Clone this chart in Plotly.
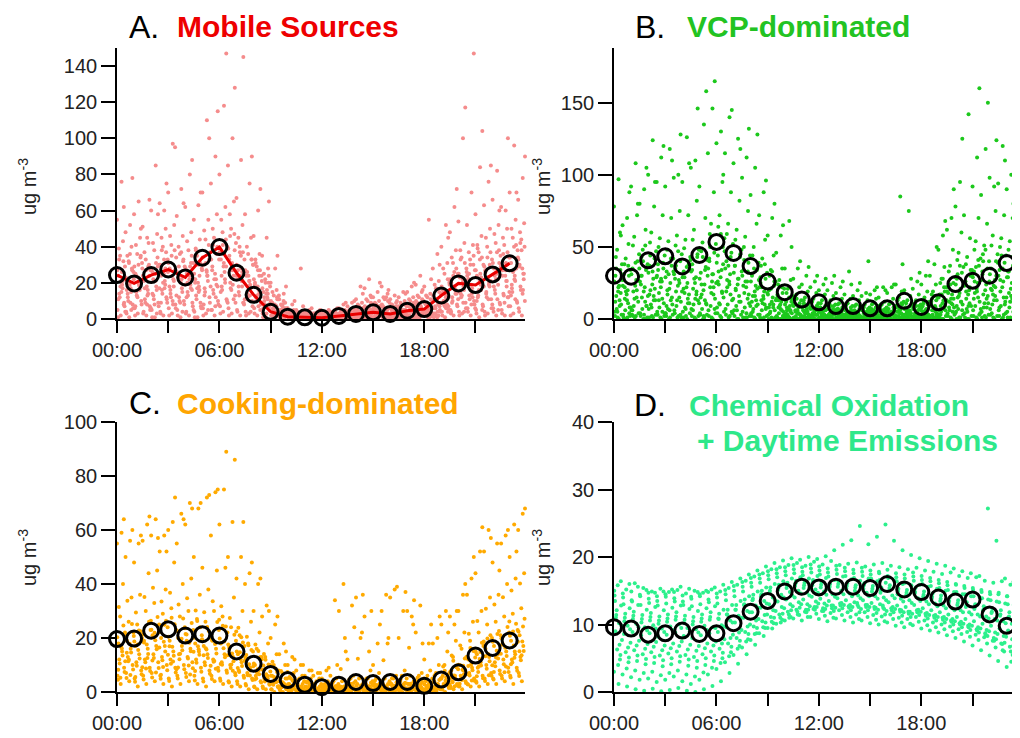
import plotly.graph_objects as go

# ---------------- data ----------------
hours = [0, 1, 2, 3, 4, 5, 6, 7, 8, 9, 10, 11, 12, 13, 14, 15, 16, 17, 18, 19, 20, 21, 22, 23]
slot_hours = [0, 0.5, 1, 1.5, 2, 2.5, 3, 3.5, 4, 4.5, 5, 5.5, 6, 6.5, 7, 7.5, 8, 8.5, 9, 9.5,
              10, 10.5, 11, 11.5, 12, 12.5, 13, 13.5, 14, 14.5, 15, 15.5, 16, 16.5, 17, 17.5,
              18, 18.5, 19, 19.5, 20, 20.5, 21, 21.5, 22, 22.5, 23, 23.5]
# sampling minute within each half-hour slot, one per day-row
row_offsets_min = [13, 2, 25, 8, 18, 5, 28, 11, 21, 0, 16, 24,
                   3.5, 26.5, 9.5, 19.5, 14.5, 1, 22.5, 6.5,
                   4.5, 17, 29, 12, 7.5, 23.5, 20, 15.5]

major_ticks = [0, 6, 12, 18]
major_text = ["00:00", "06:00", "12:00", "18:00"]
minor_ticks = [3, 9, 15, 21]

# hourly means (black circles)
mobile_mean = [24.3, 19.7, 24.3, 27.4, 23.0, 33.9, 39.8, 25.6, 13.4, 4.0, 1.3, 0.9, 0.7, 1.7,
               2.8, 3.7, 2.8, 4.6, 5.5, 13.0, 19.7, 18.8, 24.7, 30.8]
vcp_mean = [30.0, 29.3, 40.7, 43.5, 36.5, 44.4, 53.5, 45.8, 36.7, 26.0, 18.6, 13.5, 11.6, 9.0,
            9.0, 7.4, 7.4, 12.6, 8.4, 11.6, 24.2, 26.5, 30.0, 38.8]
cooking_mean = [19.6, 19.8, 22.7, 23.2, 20.9, 21.4, 20.9, 15.0, 10.5, 6.7, 4.4, 2.7, 1.8, 2.7,
                3.7, 3.3, 3.7, 3.7, 2.3, 4.6, 7.3, 13.5, 16.3, 19.1]
oxid_mean = [9.6, 9.4, 8.5, 8.7, 9.1, 8.6, 8.7, 10.2, 11.9, 13.5, 14.9, 15.6, 15.5, 15.6, 15.6,
             15.4, 16.0, 15.2, 14.8, 14.0, 13.4, 13.7, 11.5, 9.8]

# half-hourly observations, one row per day
mobile_days = [
    [2,1,3,2,1,2,3,1,2,1,3,2,4,3,2,3,2,1,1,0,0,1,0,0,0,1,0,0,1,0,1,1,0,1,1,0,1,2,1,2,3,2,1,3,2,2,3,2],
    [5,4,6,3,5,4,6,5,3,4,6,5,7,6,5,4,6,3,2,1,1,0,1,1,0,0,1,1,1,2,1,2,1,1,2,2,2,3,4,5,4,6,5,4,6,5,7,6],
    [9,8,10,7,9,11,8,10,9,7,12,10,11,13,9,10,8,7,4,2,1,1,1,0,1,1,2,1,2,3,2,3,2,3,3,4,3,5,7,8,9,10,8,11,9,12,10,11],
    [14,12,15,11,13,16,14,12,15,13,17,16,18,20,15,14,12,10,6,3,2,1,2,1,1,2,2,3,3,4,3,4,3,4,5,5,5,7,10,12,14,13,12,15,16,14,17,18],
    [19,17,20,16,18,21,22,17,19,18,24,22,26,28,21,19,16,12,7,4,2,2,1,2,1,1,2,2,4,5,4,6,4,5,6,7,6,9,13,16,18,17,19,20,22,21,24,25],
    [24,21,25,22,26,24,28,23,25,22,30,29,33,35,27,24,20,15,9,5,3,2,2,1,2,2,3,4,5,6,5,7,5,6,7,9,8,11,16,20,23,22,24,26,28,27,31,30],
    [29,26,31,27,30,33,34,29,31,28,37,36,40,42,33,30,24,18,11,6,3,3,2,2,1,2,3,3,6,8,7,9,6,7,8,10,10,14,20,25,28,27,30,33,35,34,38,37],
    [35,32,36,33,38,40,41,36,38,35,44,45,48,50,40,36,29,22,13,7,4,3,3,2,2,3,4,5,7,10,8,11,7,8,10,12,12,17,25,31,34,33,37,40,42,41,45,44],
    [43,40,45,42,47,50,52,46,48,44,55,58,62,65,52,45,36,28,16,9,5,4,3,3,2,3,5,6,9,13,10,14,9,10,12,15,14,21,31,38,42,41,46,50,52,50,55,53],
    [55,48,58,51,60,64,70,57,62,55,70,75,80,85,67,58,46,35,20,11,6,5,4,3,3,4,6,7,11,17,12,18,11,12,15,19,18,28,40,48,54,52,58,63,66,62,70,66],
    [76,52,65,45,85,60,97,72,80,63,110,90,118,100,88,75,60,45,28,14,8,28,5,4,4,5,8,9,18,22,15,12,13,15,18,24,55,36,52,62,100,70,84,76,82,60,96,78],
    [62,78,50,66,58,75,95,64,88,70,100,115,147,128,145,90,72,65,35,18,10,7,6,5,5,6,9,10,14,12,20,16,10,14,20,16,22,30,45,72,117,147,104,85,60,100,70,90],
    [1,3,2,4,1,3,2,2,4,1,2,5,3,2,4,2,3,1,2,1,0,1,0,1,0,0,1,0,1,1,0,1,1,0,1,1,2,1,2,3,2,4,3,2,4,3,2,4],
    [7,6,8,5,7,9,6,8,7,6,9,8,10,9,8,7,9,5,3,2,1,1,0,1,1,0,1,1,2,1,2,1,2,2,1,3,3,4,5,7,6,8,7,6,8,7,9,8],
    [12,10,13,9,11,14,12,10,13,11,15,14,16,17,13,12,10,8,5,3,2,1,1,1,0,1,1,2,2,3,3,2,3,3,4,4,4,6,8,10,12,11,13,12,14,13,15,16],
    [17,15,18,14,16,19,18,15,17,16,21,19,22,24,18,17,14,11,7,4,2,1,1,1,1,1,2,2,3,4,3,5,4,4,5,6,5,8,11,14,16,15,16,18,19,18,21,22],
    [21,19,23,18,21,25,24,20,22,20,27,25,29,31,24,21,18,14,8,4,3,2,2,1,1,2,2,3,4,5,4,6,5,5,6,8,7,10,14,18,20,19,21,23,25,24,27,28],
    [27,23,29,24,28,30,31,26,28,25,34,33,37,39,30,27,22,17,10,5,3,2,2,2,1,2,3,4,5,7,6,8,6,7,8,10,9,13,18,22,25,24,27,29,31,30,34,33],
    [32,28,34,30,34,37,38,32,35,31,41,40,44,47,37,33,27,20,12,6,4,3,3,2,2,2,3,4,6,9,7,10,7,8,9,11,11,15,22,28,31,30,34,37,38,37,41,40],
    [39,35,41,37,42,45,46,40,43,39,49,50,55,58,45,40,33,25,15,8,4,3,3,3,2,3,4,5,8,11,9,12,8,9,11,13,13,19,28,34,38,37,41,45,47,45,50,48],
    [11,16,7,21,14,9,18,25,12,20,8,27,15,33,22,11,19,6,9,3,2,4,1,3,2,0,3,1,5,2,6,3,1,4,2,7,3,6,9,4,15,22,10,27,18,24,13,29],
    [26,9,19,13,31,17,8,22,29,15,24,12,36,19,28,13,7,16,4,6,1,2,3,0,2,4,1,3,2,6,1,5,3,2,6,3,8,4,6,17,9,14,25,19,11,31,22,16],
    [4,22,28,6,17,26,13,19,5,27,18,33,9,24,11,30,21,9,13,2,3,1,2,4,0,2,3,5,1,4,3,2,6,4,3,5,2,9,19,11,26,6,18,8,29,15,34,21],
    [18,31,12,27,8,20,35,9,26,17,31,22,41,16,37,24,13,20,6,8,2,3,0,2,3,1,2,4,3,1,5,4,2,3,5,1,4,11,7,24,13,30,16,34,22,9,26,38],
    [33,14,24,17,22,38,16,29,20,38,13,41,24,46,18,26,31,12,3,5,1,0,2,1,1,3,0,2,4,3,2,6,4,1,2,4,6,3,15,9,33,25,39,14,24,36,19,42],
    [8,27,35,24,29,12,27,33,16,9,33,18,29,38,9,33,5,24,11,4,3,2,1,2,0,1,2,1,2,5,3,1,2,5,3,2,3,7,4,14,19,35,5,21,31,12,28,10],
    [21,5,16,29,3,28,21,4,31,24,5,36,20,11,26,4,24,14,7,1,1,1,3,0,1,2,1,3,1,2,4,2,1,2,1,3,1,2,8,16,4,12,23,30,5,21,11,25],
    [15,36,30,8,25,33,10,37,24,30,26,7,31,27,35,21,27,3,2,10,2,2,1,1,2,0,1,2,3,4,1,3,5,3,4,2,5,1,12,26,22,8,33,11,37,27,40,14],
]
vcp_days = [
    [1,0,1,0,2,1,0,1,2,1,0,1,2,1,0,1,1,0,1,0,0,0,1,0,0,0,0,1,0,0,0,1,0,0,1,0,0,1,0,1,1,0,1,2,1,0,1,2],
    [5,3,6,4,7,5,4,6,5,7,4,6,8,7,6,5,4,3,3,2,2,1,1,2,1,1,1,2,1,1,2,1,1,2,1,1,2,2,3,4,5,4,6,5,7,6,5,6],
    [10,8,12,9,13,11,10,12,11,13,10,14,15,13,12,11,10,8,6,5,4,3,3,3,2,3,2,3,2,3,3,2,3,3,2,3,3,4,6,8,10,9,12,11,13,12,11,13],
    [16,14,19,15,20,18,17,19,18,21,17,22,24,22,20,18,16,13,10,8,6,5,5,4,4,4,3,4,3,4,4,3,4,5,4,4,5,6,9,12,15,14,18,17,20,19,18,20],
    [23,20,27,22,28,26,25,27,25,29,24,31,34,31,28,26,23,19,15,12,9,8,7,6,6,6,5,5,4,5,5,5,5,7,6,6,7,9,13,17,21,20,25,24,27,26,25,28],
    [30,27,35,30,37,34,33,35,33,38,32,40,44,40,37,34,30,25,20,16,12,10,9,8,8,8,7,7,6,6,7,6,7,9,8,8,9,12,17,22,28,26,33,31,35,34,33,37],
    [38,34,45,38,47,44,42,45,43,48,41,52,56,52,48,44,39,32,26,21,16,13,12,11,10,10,9,9,8,8,9,8,9,12,10,10,12,15,22,29,36,34,42,40,45,44,42,48],
    [48,42,57,48,60,56,54,58,55,62,53,66,72,66,62,57,50,42,34,27,21,17,15,14,13,13,11,11,10,10,11,10,11,15,13,13,15,19,28,37,46,43,54,51,58,56,54,62],
    [60,52,72,62,78,72,70,75,72,82,70,88,95,88,82,75,66,55,44,35,27,22,19,18,17,16,14,14,13,13,14,12,14,19,16,17,19,24,36,48,60,56,70,66,75,72,70,80],
    [78,65,92,80,100,95,92,98,95,105,92,115,122,115,108,98,86,72,58,46,35,28,24,22,20,20,18,17,16,16,17,15,18,24,20,21,24,30,48,62,78,72,92,86,98,94,90,105],
    [97,70,108,90,124,112,118,100,126,110,135,146,130,140,125,112,105,88,70,58,68,35,30,26,24,25,22,33,20,18,20,22,22,85,75,26,30,38,58,70,95,142,112,118,92,120,100,112],
    [58,88,80,105,95,120,110,128,108,146,158,165,100,145,118,132,128,96,80,65,50,40,36,30,28,30,26,24,25,40,22,20,24,38,28,32,40,50,68,90,125,190,160,150,124,110,80,100],
    [2,1,3,2,1,3,2,4,1,2,3,2,4,3,2,1,2,1,0,1,1,0,0,1,0,1,0,0,1,0,1,0,1,0,0,1,1,0,1,2,0,1,2,1,3,2,1,3],
    [3,2,4,1,3,2,3,1,4,2,3,4,5,4,3,2,3,2,1,1,0,1,1,0,1,0,1,1,0,1,1,0,1,1,0,1,1,1,2,3,3,2,4,3,2,4,3,4],
    [7,6,9,7,10,8,7,9,8,10,7,9,11,10,9,8,7,6,5,4,3,2,2,2,2,2,2,2,2,2,2,2,2,2,2,2,2,3,5,6,7,7,9,8,10,9,8,9],
    [13,11,15,12,16,14,13,15,14,17,13,17,19,17,16,14,13,10,8,6,5,4,4,3,3,3,3,3,3,3,3,3,3,4,3,3,4,5,7,10,12,11,15,14,16,15,14,16],
    [19,17,23,19,24,22,21,23,22,25,20,26,29,26,24,22,19,16,12,10,7,6,6,5,5,5,4,4,4,4,4,4,4,6,5,5,6,7,11,14,18,17,21,20,23,22,21,24],
    [26,23,31,26,32,30,29,31,29,33,28,35,39,35,32,30,26,22,17,14,10,9,8,7,7,7,6,6,5,6,6,5,6,8,7,7,8,10,15,19,24,23,29,27,31,30,29,32],
    [34,30,40,34,42,39,37,40,38,43,36,46,50,46,43,39,34,28,23,18,14,11,10,9,9,9,8,8,7,7,8,7,8,10,9,9,10,13,19,25,32,30,37,35,40,39,37,42],
    [43,38,51,43,53,50,48,51,49,55,47,59,64,59,55,50,44,37,30,24,18,15,13,12,11,11,10,10,9,9,10,9,10,13,11,11,13,17,25,33,41,38,48,45,51,50,48,55],
    [12,31,6,24,17,38,9,28,21,34,15,42,26,19,37,23,12,29,8,17,4,11,6,2,8,3,5,9,1,6,3,7,2,5,8,1,4,10,6,18,9,26,14,33,21,8,29,17],
    [0,1,2,0,1,0,1,2,0,0,1,0,1,2,0,1,0,1,0,0,1,0,0,0,1,0,0,0,1,0,0,0,0,1,0,0,0,1,0,0,1,0,0,1,0,1,0,0],
    [27,8,35,16,29,4,33,19,41,11,30,25,47,14,33,9,27,18,13,3,10,2,8,5,1,6,3,2,7,4,1,5,8,3,1,6,9,2,13,4,24,31,7,26,39,15,23,36],
    [5,19,14,40,8,26,31,13,7,28,43,18,10,37,6,26,35,11,21,9,2,14,4,7,3,9,1,4,5,2,6,3,4,7,2,9,3,6,17,24,16,5,36,11,17,44,12,6],
    [35,22,2,30,44,13,20,37,29,6,24,50,33,27,21,41,5,22,4,13,8,6,11,1,5,2,7,11,3,8,5,10,1,9,6,3,11,14,3,8,31,19,26,40,4,27,33,22],
    [18,4,27,9,21,35,15,3,17,45,11,7,38,5,45,17,21,7,26,2,12,3,2,9,6,4,2,6,9,1,3,4,6,2,4,7,1,3,9,14,6,34,3,16,30,10,5,39],
    [9,37,20,51,13,5,42,25,11,19,34,22,18,43,12,33,9,38,10,22,6,9,5,3,2,7,4,1,2,5,8,2,3,11,5,2,6,8,22,5,12,22,41,8,22,3,43,27],
    [22,13,39,3,33,28,6,47,36,14,2,31,59,24,28,4,16,14,33,7,15,4,9,6,3,1,6,3,4,2,1,6,5,4,3,5,2,16,28,11,37,9,19,48,13,35,16,11],
]
cooking_days = [
    [3,4,2,3,4,3,2,3,4,3,2,4,3,2,2,1,1,1,0,0,0,0,0,0,0,0,0,0,0,0,0,0,0,0,0,0,0,0,0,1,1,2,2,3,3,4,3,4],
    [6,7,5,6,7,6,5,6,7,6,5,6,5,4,4,3,2,2,1,1,1,0,0,0,0,0,0,1,0,0,1,0,0,1,0,0,1,0,1,2,2,3,4,5,5,6,6,7],
    [9,10,8,9,11,10,9,10,11,9,8,9,8,7,6,5,4,3,2,1,1,1,1,0,1,0,1,1,1,1,1,1,1,1,1,1,1,1,2,3,4,5,6,7,8,9,9,10],
    [12,13,11,12,14,13,12,14,13,12,11,12,11,10,8,7,6,5,3,2,2,1,1,1,1,1,1,2,1,2,2,1,2,2,1,2,2,2,3,4,6,7,9,10,11,12,12,13],
    [15,16,14,16,17,17,15,17,16,15,14,16,14,13,11,9,8,6,4,3,2,2,2,1,1,1,2,2,2,2,2,2,2,3,2,3,3,3,4,6,8,9,11,13,14,15,15,17],
    [18,19,17,19,21,20,19,20,19,18,17,19,18,16,14,12,10,8,6,4,3,3,2,2,2,2,2,3,3,3,3,3,3,4,3,4,4,4,6,8,10,12,14,16,17,18,19,21],
    [22,22,20,23,25,24,23,24,23,21,20,23,22,19,17,15,13,10,8,5,4,4,3,3,3,3,3,4,4,4,4,4,4,5,4,5,5,5,7,10,13,15,17,20,21,22,23,25],
    [28,26,25,30,33,29,31,28,30,27,26,30,28,24,21,18,16,13,10,7,5,5,4,4,3,4,4,5,5,5,5,5,5,6,6,6,6,7,10,13,16,19,22,25,26,28,29,31],
    [40,35,36,44,45,38,48,40,42,36,38,45,46,35,30,26,22,18,14,10,7,6,5,5,4,5,20,6,22,8,7,18,6,8,25,7,8,10,15,19,22,26,30,35,36,40,42,44],
    [55,50,48,56,58,52,60,55,62,50,46,58,62,50,42,40,30,28,20,14,10,8,6,6,5,6,30,12,35,28,10,30,35,20,30,22,12,18,25,28,30,36,44,52,48,55,50,60],
    [59,56,55,62,64,58,63,66,70,68,72,74,75,63,50,44,40,32,25,18,13,10,8,7,8,34,40,32,20,15,18,36,38,30,28,32,18,20,30,25,36,42,52,60,55,58,62,66],
    [64,60,58,65,57,52,72,64,68,70,73,75,89,86,63,48,42,30,28,15,12,10,8,7,9,10,15,24,36,30,25,20,39,37,34,18,25,28,22,30,40,50,61,57,45,60,52,68],
    [4.5,5.2,3.8,4.6,5.4,4.9,4.1,5.0,5.6,4.3,3.9,4.8,4.2,3.5,3.0,2.4,1.8,1.4,0.9,0.6,0.4,0.3,0.2,0.2,0.1,0.3,0.2,0.4,0.3,0.5,0.4,0.3,0.5,0.4,0.6,0.5,0.4,0.6,0.9,1.5,2.1,2.8,3.4,4.1,4.6,5.0,5.4,5.9],
    [7.4,8.3,6.6,7.8,8.9,8.1,7.2,8.4,8.8,7.5,6.8,7.9,7.1,6.2,5.3,4.4,3.5,2.7,1.8,1.2,0.8,0.6,0.5,0.4,0.3,0.5,0.4,0.7,0.6,0.8,0.7,0.6,0.8,0.7,0.9,0.8,0.7,1.0,1.5,2.4,3.3,4.2,5.1,6.0,6.7,7.4,7.9,8.6],
    [10.6,11.4,9.7,11.0,12.6,11.8,10.5,12.1,12.4,10.8,9.9,11.2,10.1,8.9,7.4,6.2,5.0,3.9,2.7,1.8,1.3,1.0,0.8,0.7,0.6,0.8,0.7,1.1,0.9,1.2,1.1,1.0,1.3,1.2,1.4,1.3,1.2,1.6,2.4,3.6,4.9,6.1,7.4,8.6,9.5,10.3,10.9,11.8],
    [13.5,14.6,12.4,14.1,15.8,15.0,13.4,15.5,15.1,13.8,12.6,14.3,12.9,11.4,9.6,8.0,6.6,5.1,3.6,2.5,1.7,1.4,1.1,1.0,0.9,1.1,1.0,1.5,1.3,1.6,1.5,1.4,1.8,1.6,1.9,1.8,1.7,2.2,3.3,4.9,6.6,8.1,9.8,11.4,12.4,13.3,14.0,15.2],
    [16.8,17.9,15.6,17.6,19.2,18.6,16.8,18.9,18.2,16.9,15.7,17.8,16.2,14.3,12.1,10.3,8.4,6.6,4.7,3.2,2.3,1.9,1.5,1.3,1.2,1.4,1.3,2.0,1.8,2.1,2.0,1.9,2.3,2.1,2.5,2.4,2.2,2.8,4.2,6.1,8.2,10.1,12.2,14.1,15.3,16.4,17.2,18.7],
    [20.3,21.2,18.7,21.4,23.1,22.2,20.5,22.6,21.5,20.1,18.8,21.4,19.8,17.6,15.0,12.8,10.6,8.3,6.0,4.0,2.9,2.4,1.9,1.6,1.5,1.8,1.7,2.6,2.3,2.7,2.5,2.4,2.9,2.7,3.1,3.0,2.8,3.5,5.2,7.5,10.1,12.4,14.9,17.3,18.6,19.9,20.8,22.4],
    [24.6,25.2,22.5,26.0,27.8,26.4,25.1,27.2,25.6,24.0,22.6,25.9,24.3,21.2,18.3,15.6,12.9,10.2,7.4,5.0,3.6,3.0,2.4,2.0,1.9,2.2,2.1,3.3,2.9,3.4,3.1,3.0,3.6,3.4,3.9,3.7,3.5,4.4,6.4,9.2,12.4,15.2,18.2,21.0,22.6,24.1,25.3,27.1],
    [31.5,33.8,29.4,35.2,38.6,33.5,36.8,32.4,34.7,30.2,29.5,33.6,31.8,27.4,23.8,20.5,17.6,14.1,11.2,7.8,5.6,4.4,3.6,3.0,2.7,3.2,8.5,4.6,12.3,5.0,4.2,11.8,5.1,4.6,16.4,5.3,4.8,6.2,9.4,13.5,17.2,21.6,26.3,30.8,32.4,35.1,37.6,40.2],
    [8.2,14.5,5.6,18.3,11.7,6.4,16.9,9.1,21.3,7.8,13.6,19.2,10.4,16.8,8.9,13.7,4.6,9.8,3.2,5.1,1.4,2.6,0.5,1.8,0.9,0.3,1.2,2.4,0.7,1.9,0.4,1.6,2.8,0.6,1.3,2.2,0.8,3.6,1.9,5.3,3.1,9.6,5.8,13.2,7.4,17.5,10.3,15.1],
    [16.1,6.3,22.8,12.6,7.2,24.9,11.3,19.7,6.5,15.8,24.1,8.6,18.7,7.9,20.3,6.1,15.2,5.4,8.7,2.3,4.2,0.9,2.7,0.4,1.6,2.1,0.5,1.0,2.3,0.6,2.0,0.9,0.4,2.5,0.7,1.1,3.2,1.5,5.4,2.1,9.7,4.3,14.8,6.2,21.5,9.4,12.7,24.3],
    [11.4,20.7,9.2,26.4,16.5,13.8,8.4,23.6,14.9,19.5,9.7,26.8,13.6,22.4,11.6,9.5,12.1,7.6,2.1,7.4,2.8,3.9,1.6,2.5,0.6,1.4,2.9,0.8,1.5,2.7,1.3,0.5,1.9,1.4,2.6,0.5,1.7,4.9,2.8,8.4,6.6,12.8,18.7,9.9,14.2,26.1,18.6,9.2],
    [5.3,11.9,17.6,8.7,21.9,9.3,27.5,14.2,9.8,26.3,16.2,11.5,24.5,10.2,14.7,17.3,7.3,11.9,5.6,3.6,0.7,1.7,3.4,1.1,2.3,0.8,1.8,3.1,0.9,1.5,2.6,2.1,0.7,1.8,3.1,1.6,2.4,0.9,7.9,11.6,4.4,16.3,9.5,19.8,12.8,7.3,22.4,13.6],
]
oxid_days = [
    [15.8,15.2,16.1,15.4,14.9,15.3,14.8,15.1,14.6,15.0,14.7,15.2,14.9,15.4,15.9,16.5,17.1,17.6,18.2,18.5,18.8,19.1,18.7,19.3,18.9,19.4,18.8,19.0,19.2,18.6,18.9,19.1,18.7,18.5,18.2,18.4,18.0,17.8,17.5,17.7,17.2,16.9,17.0,16.5,16.2,16.4,15.9,16.1],
    [14.3,14.0,13.6,14.2,13.8,13.5,14.1,13.9,13.4,13.8,14.2,13.7,14.0,14.5,15.0,15.6,16.2,16.8,17.3,17.6,17.9,18.2,17.8,18.3,18.0,17.7,18.1,17.9,17.6,17.8,17.4,17.6,17.2,17.0,16.8,17.1,16.6,16.4,16.1,15.8,15.9,15.4,15.1,14.8,14.5,14.7,14.2,14.4],
    [12.8,12.4,12.9,12.2,12.6,12.1,12.5,12.8,12.3,12.0,12.4,12.7,12.2,12.9,13.5,14.2,14.9,15.5,16.0,16.4,16.8,17.0,16.8,17.2,16.9,16.6,17.1,16.7,16.5,16.8,16.4,16.2,16.5,16.0,15.8,15.9,15.6,15.3,15.0,14.8,14.5,14.2,14.0,13.7,13.4,13.1,12.9,12.6],
    [11.4,11.0,11.3,10.8,11.1,10.6,10.9,11.2,10.7,10.5,10.9,11.1,10.8,11.5,12.2,13.0,13.8,14.5,15.0,15.4,15.8,16.1,15.8,16.2,15.9,15.6,16.0,15.7,15.5,15.8,15.3,15.1,15.4,14.9,14.7,14.8,14.4,14.1,13.8,13.5,13.2,12.9,12.6,12.2,11.9,11.5,11.2,10.9],
    [10.2,9.8,10.1,9.6,9.9,9.4,9.7,10.0,9.5,9.3,9.8,9.6,9.9,10.6,11.3,12.0,12.8,13.5,14.0,14.4,14.8,15.0,14.7,15.2,14.9,14.5,15.0,14.6,14.3,14.7,14.2,14.0,14.3,13.8,13.6,13.9,13.4,13.1,12.8,12.4,12.1,11.8,11.5,11.2,10.8,10.5,10.1,9.8],
    [9.0,8.6,8.9,8.4,8.7,8.2,8.5,8.8,8.3,8.0,8.4,8.7,8.9,9.6,10.3,11.0,11.8,12.5,13.0,13.4,13.7,14.0,13.7,14.1,13.8,13.5,13.9,13.6,13.3,13.6,13.2,13.0,13.3,12.8,12.6,12.9,12.4,12.1,11.8,11.5,11.1,10.8,10.5,10.1,9.8,9.4,9.1,8.8],
    [7.7,7.3,7.6,7.1,7.4,6.9,7.2,7.5,7.0,6.8,7.2,7.5,7.8,8.5,9.2,10.0,10.8,11.5,12.0,12.4,12.7,13.0,12.7,13.1,12.8,12.5,12.9,12.6,12.3,12.6,12.2,12.0,12.3,11.8,11.6,11.9,11.4,11.1,10.8,10.5,10.1,9.8,9.4,9.0,8.6,8.2,7.8,7.4],
    [6.3,5.9,6.2,5.6,5.9,5.4,5.7,6.0,5.5,5.2,5.6,6.0,6.4,7.2,8.0,8.9,9.7,10.5,11.1,11.5,11.9,12.2,11.9,12.3,12.0,11.7,12.1,11.8,11.5,11.8,11.4,11.2,11.5,11.0,10.8,11.1,10.6,10.3,10.0,9.7,9.3,8.9,8.5,8.1,7.6,7.2,6.7,6.2],
    [4.8,4.4,4.6,4.1,4.3,3.8,4.1,4.5,3.9,3.6,4.0,4.6,5.0,5.9,6.8,7.8,8.7,9.5,10.2,10.7,11.1,11.4,11.1,11.6,11.3,11.0,11.4,11.1,10.8,11.1,10.7,10.5,10.8,10.3,10.1,10.4,9.9,9.6,9.3,9.0,8.6,8.2,7.7,7.2,6.6,6.0,5.5,5.0],
    [3.0,2.6,2.2,1.8,2.0,1.5,1.8,2.3,1.6,1.2,1.8,2.6,3.4,4.4,5.5,6.6,7.7,8.7,9.5,10.1,10.6,10.9,10.6,11.1,10.8,10.5,10.9,10.6,10.3,10.6,10.2,10.0,10.3,9.8,9.6,9.9,9.4,9.1,8.8,8.4,8.0,7.5,6.9,6.2,5.4,4.6,3.7,2.8],
    [1.2,0.8,0.4,0.2,0.5,0.1,0.3,0.6,0.2,0.0,0.4,0.9,1.6,2.8,4.2,5.6,7.0,8.3,9.4,10.3,11.0,11.5,11.8,12.2,12.0,12.4,12.8,12.5,12.9,12.6,12.3,12.5,12.1,11.9,11.6,11.8,11.3,11.0,10.7,10.4,10.0,9.6,9.1,8.5,7.6,6.2,4.5,2.5],
    [16.4,16.0,15.6,15.1,14.7,14.9,15.2,15.6,15.3,14.8,15.0,15.5,15.9,16.3,16.8,17.4,18.0,18.6,19.1,19.5,19.8,19.6,20.0,19.7,20.1,21.0,21.8,22.5,24.6,21.9,23.0,24.8,22.4,21.0,20.3,19.8,19.4,19.0,18.7,18.3,17.9,17.6,17.2,27.2,22.4,16.8,16.3,15.8],
    [13.5,13.0,13.4,12.9,13.2,12.8,13.1,13.4,12.9,12.7,13.0,13.3,13.1,13.6,14.2,14.9,15.6,16.2,16.7,17.0,17.3,17.6,17.3,17.7,17.4,17.1,17.5,17.2,16.9,17.2,16.8,16.6,16.9,16.4,16.2,16.5,16.0,15.7,15.4,15.1,14.8,14.5,14.2,13.9,13.6,13.3,13.0,12.8],
    [9.8,9.3,9.6,9.1,9.4,8.9,9.2,9.5,9.0,8.8,9.2,9.5,9.7,10.3,11.0,11.8,12.5,13.1,13.6,14.0,14.3,14.6,14.3,14.7,14.4,14.1,14.5,14.2,13.9,14.2,13.8,13.6,13.9,13.4,13.2,13.5,13.0,12.7,12.4,12.1,11.8,11.5,11.2,10.9,10.6,10.2,9.9,9.6],
    [12.1,11.6,11.9,11.4,11.7,11.2,11.5,11.8,11.3,11.1,11.5,11.8,11.6,12.2,12.9,13.7,14.4,15.0,15.5,15.9,16.2,16.5,16.2,16.6,16.3,16.0,16.4,16.1,15.8,16.1,15.7,15.5,15.8,15.3,15.1,15.4,14.9,14.6,14.3,14.0,13.6,13.3,13.0,12.7,12.4,12.1,11.8,11.5],
    [7.0,6.6,6.9,6.4,6.7,6.2,6.5,6.8,6.3,6.1,6.5,6.9,7.2,8.0,8.8,9.7,10.6,11.4,12.1,12.6,13.0,13.3,13.0,13.4,13.1,12.8,13.2,12.9,12.6,12.9,12.5,12.3,12.6,12.1,11.9,12.2,11.7,11.4,11.1,10.8,10.4,10.0,9.6,9.2,8.8,8.3,7.8,7.3],
    [4.0,3.5,3.2,2.8,3.0,2.5,2.8,3.2,2.6,2.3,2.9,3.6,4.3,5.3,6.4,7.5,8.6,9.6,10.4,11.0,11.5,11.9,12.2,12.6,12.4,12.8,13.1,12.7,13.2,12.9,12.6,12.8,12.4,12.2,11.9,12.1,11.6,11.3,11.0,10.6,10.2,9.8,9.3,8.7,8.0,7.1,6.0,4.8],
    [15.0,14.6,14.9,14.4,14.7,14.2,14.5,14.8,14.3,14.1,14.5,14.8,14.6,15.1,15.7,16.3,16.9,17.4,17.9,18.2,18.5,18.8,18.5,18.9,18.6,18.3,18.7,18.4,18.1,18.4,18.0,17.8,18.1,17.6,17.4,17.7,17.2,16.9,16.6,16.3,16.0,15.7,15.4,15.1,14.8,14.5,14.2,13.9],
    [5.5,5.1,5.4,4.9,5.2,4.7,5.0,5.3,4.8,4.6,5.0,5.4,5.8,6.7,7.6,8.6,9.5,10.3,11.0,11.6,12.1,12.5,12.2,12.6,12.3,12.0,12.4,12.1,11.8,12.1,11.7,11.5,11.8,11.3,11.1,11.4,10.9,10.6,10.3,10.0,9.6,9.2,8.8,8.3,7.8,7.3,6.8,6.2],
    [11.0,10.5,10.8,10.3,10.6,10.1,10.4,10.7,10.2,10.0,10.4,10.7,10.9,11.5,12.2,12.9,13.6,14.2,14.7,15.1,15.4,15.7,15.4,15.8,15.5,15.2,15.6,15.3,15.0,15.3,14.9,14.7,15.0,14.5,14.3,14.6,14.1,13.8,13.5,13.2,12.9,12.6,12.3,12.0,11.7,11.3,11.0,10.7],
]

# ---------------- figure ----------------
# the page body has an 8 px margin, so the figure is drawn from page pixel (8, 8)
PAGE_OFF = 8
W, H = 1012, 730
FONT = "Liberation Sans, Arial, sans-serif"


def px(x):
    return (x - PAGE_OFF) / W


def py(y):
    return 1 - (y - PAGE_OFF) / H


panels = [
    dict(ax="", days=mobile_days, mean=mobile_mean, dot="#F58C8C", line="#E80000",
         yr=[0, 150], dtick=20, xr=[0, 23.9]),
    dict(ax="2", days=vcp_days, mean=vcp_mean, dot="#1CC81C", line=None,
         yr=[0, 188], dtick=50, xr=[0, 23.78]),
    dict(ax="3", days=cooking_days, mean=cooking_mean, dot="#FFAA00", line=None,
         yr=[0, 100], dtick=20, xr=[0, 23.9]),
    dict(ax="4", days=oxid_days, mean=oxid_mean, dot="#2CF08C", line=None,
         yr=[0, 40], dtick=10, xr=[0, 23.78]),
]

fig = go.Figure()
for p in panels:
    xs, ys = [], []
    for r, row in enumerate(p["days"]):
        for i, v in enumerate(row):
            xs.append(slot_hours[i] + row_offsets_min[r] / 60.0)
            ys.append(v)
    xa, ya = "x" + p["ax"], "y" + p["ax"]
    fig.add_trace(go.Scatter(x=xs, y=ys, mode="markers", xaxis=xa, yaxis=ya,
                             marker=dict(size=4, color=p["dot"]), cliponaxis=False,
                             hoverinfo="skip", showlegend=False))
    if p["line"]:
        fig.add_trace(go.Scatter(x=hours, y=p["mean"], mode="lines", xaxis=xa, yaxis=ya,
                                 line=dict(color=p["line"], width=3), cliponaxis=False,
                                 showlegend=False))
    fig.add_trace(go.Scatter(x=hours, y=p["mean"], mode="markers", xaxis=xa, yaxis=ya,
                             marker=dict(symbol="circle-open", size=15, color="black",
                                         line=dict(width=3, color="black")),
                             cliponaxis=False, showlegend=False))

left_dom = [px(117), px(525)]
right_dom = [px(614), 1.0]
top_dom = [py(319), py(48)]
bot_dom = [py(692), py(422)]

axis_common = dict(showline=True, linecolor="black", linewidth=1.6, ticks="outside",
                   tickcolor="black", tickwidth=1.6, showgrid=False, zeroline=False,
                   automargin=False,
                   tickfont=dict(family=FONT, size=20, color="#222222"))

layout = dict(width=W, height=H, margin=dict(l=0, r=0, t=0, b=0, autoexpand=False),
              paper_bgcolor="white", plot_bgcolor="white", showlegend=False)

doms = {"": (left_dom, top_dom), "2": (right_dom, top_dom),
        "3": (left_dom, bot_dom), "4": (right_dom, bot_dom)}
for p in panels:
    a = p["ax"]
    xd, yd = doms[a]
    layout["xaxis" + a] = dict(axis_common, domain=xd, range=p["xr"], anchor="y" + a,
                               tickmode="array", tickvals=major_ticks, ticktext=major_text,
                               ticklen=12,
                               minor=dict(tickmode="array", tickvals=minor_ticks,
                                          ticks="outside", ticklen=12, tickwidth=1.6,
                                          tickcolor="black", showgrid=False))
    layout["yaxis" + a] = dict(axis_common, domain=yd, range=p["yr"], anchor="x" + a,
                               dtick=p["dtick"], tick0=0, ticklen=14)

fig.update_layout(**layout)

annots = []
letters = [("A.", 127, 27), ("B.", 633, 27), ("C.", 127, 403), ("D.", 632, 405)]
for t, x, y in letters:
    annots.append(dict(text=t, x=px(x), y=py(y), xref="paper", yref="paper",
                       xanchor="left", yanchor="middle", showarrow=False,
                       font=dict(family=FONT, size=32, color="black")))
names = [("Mobile Sources", 175, 27, "#EE0000"),
         ("VCP-dominated", 685, 27, "#22C322"),
         ("Cooking-dominated", 175, 403, "#FFA500"),
         ("Chemical Oxidation", 687, 405, "#2EE88A"),
         ("+ Daytime Emissions", 695, 441, "#2EE88A")]
for t, x, y, c in names:
    annots.append(dict(text="<b>" + t + "</b>", x=px(x), y=py(y), xref="paper", yref="paper",
                       xanchor="left", yanchor="middle", showarrow=False,
                       font=dict(family=FONT, size=30, color=c)))
for x, y in [(27, 187), (541, 187), (27, 558), (541, 558)]:
    annots.append(dict(text="ug m<sup>-3</sup>", x=px(x), y=py(y), xref="paper", yref="paper",
                       xanchor="center", yanchor="middle", showarrow=False, textangle=-90,
                       font=dict(family=FONT, size=20, color="#222222")))
fig.update_layout(annotations=annots)

fig.write_html("out.html")
